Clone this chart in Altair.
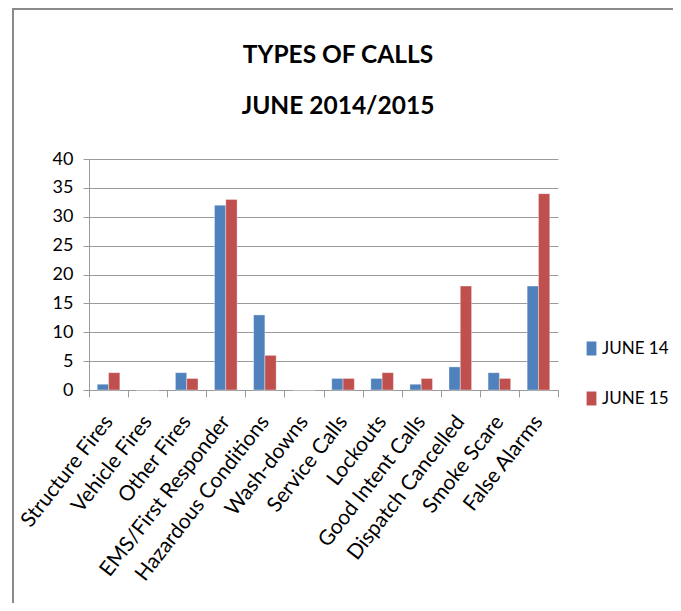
import altair as alt
import pandas as pd

categories = ["Structure Fires", "Vehicle Fires", "Other Fires", "EMS/First Responder",
              "Hazardous Conditions", "Wash-downs", "Service Calls", "Lockouts",
              "Good Intent Calls", "Dispatch Cancelled", "Smoke Scare", "False Alarms"]
series = ["JUNE 14", "JUNE 15"]
june14 = [1, 0, 3, 32, 13, 0, 2, 2, 1, 4, 3, 18]
june15 = [3, 0, 2, 33, 6, 0, 2, 3, 2, 18, 2, 34]
y_ticks = [0, 5, 10, 15, 20, 25, 30, 35, 40]
title_lines = ["TYPES OF CALLS", "JUNE 2014/2015"]
colors = ["#4F81BD", "#C0504D"]

rows = []
for c, a, b in zip(categories, june14, june15):
    rows.append({"cat": c, "series": series[0], "value": a})
    rows.append({"cat": c, "series": series[1], "value": b})
df = pd.DataFrame(rows)

FONT = "Lato"
GRID = "#9a9a9a"
W, H = 469, 231

bars = alt.Chart(df).mark_bar(stroke="white", strokeWidth=0.6, strokeOpacity=0.6).encode(
    x=alt.X("cat:N", sort=categories, title=None,
            scale=alt.Scale(paddingInner=0, paddingOuter=0),
            axis=alt.Axis(labelAngle=-52, labelFontSize=21, labelColor="black",
                          labelFont=FONT, tickBand="extent", tickSize=7, tickColor=GRID,
                          domainColor=GRID, labelPadding=21, grid=False, labelLimit=300)),
    xOffset=alt.XOffset("series:N", scale=alt.Scale(paddingOuter=0.73, paddingInner=0)),
    y=alt.Y("value:Q", title=None,
            scale=alt.Scale(domain=[0, 40], nice=False),
            axis=alt.Axis(values=y_ticks, labelFontSize=18, labelFont=FONT, labelColor="black",
                          tickSize=6, tickColor=GRID, domainColor=GRID, gridColor=GRID,
                          gridWidth=1.2, labelPadding=10)),
    color=alt.Color("series:N", scale=alt.Scale(domain=series, range=colors),
                    legend=alt.Legend(title=None, orient="none", legendX=494, legendY=181,
                                      symbolType="M-0.7,-1H0.7V1H-0.7Z", symbolSize=196,
                                      symbolStrokeWidth=0, labelFont=FONT, labelFontSize=17,
                                      labelColor="black", labelOffset=2, rowPadding=32,
                                      padding=0)),
)

title_layers = []
for i, line in enumerate(title_lines):
    title_layers.append(
        alt.Chart(pd.DataFrame({"line": [line]})).mark_text(
            font=FONT, fontSize=24.5, fontWeight="bold", color="black",
            align="center", baseline="alphabetic").encode(
            x=alt.value(249), y=alt.value(-96 + 51 * i), text="line:N")
    )

one = pd.DataFrame({"k": [0]})
border_top = alt.Chart(one).mark_rule(color="#8a8a8a", strokeWidth=2).encode(
    x=alt.value(-77), x2=alt.value(600), y=alt.value(-150))
border_left = alt.Chart(one).mark_rule(color="#8a8a8a", strokeWidth=2).encode(
    x=alt.value(-76), y=alt.value(-151), y2=alt.value(450))

chart = alt.layer(bars, *title_layers, border_top, border_left).properties(
    width=W, height=H,
    autosize=alt.AutoSizeParams(type="none"),
    padding={"left": 81, "top": 151, "right": 115, "bottom": 213},
).configure_view(stroke=None)

chart.save("out.html", embed_options={"renderer": "svg", "actions": False})
